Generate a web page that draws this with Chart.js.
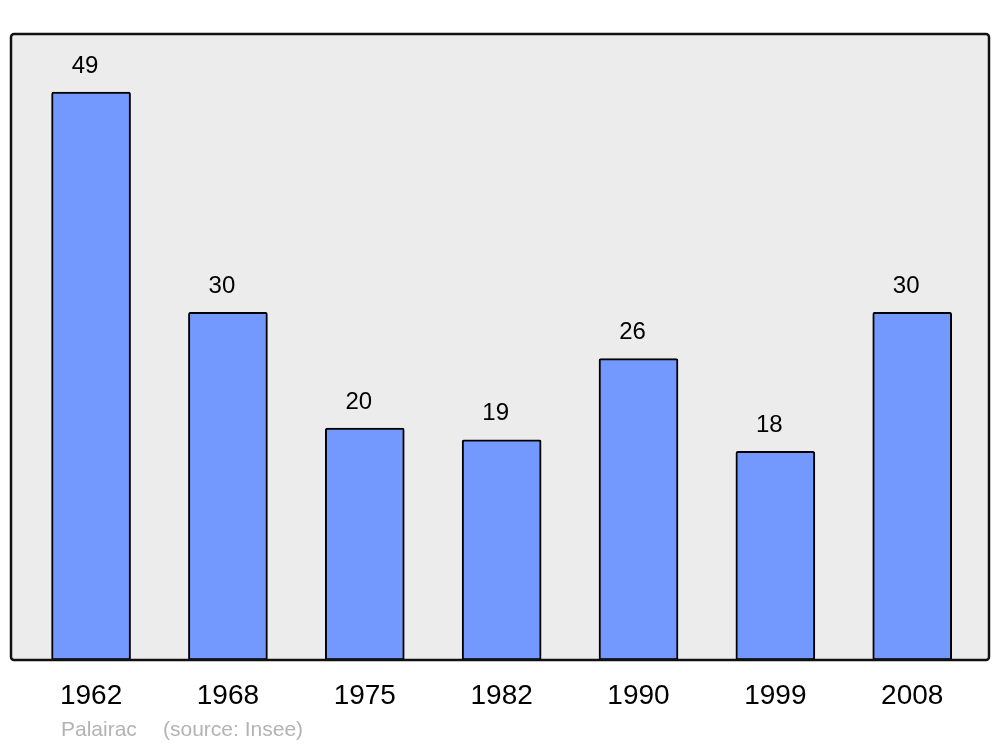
<!DOCTYPE html>
<html>
<head>
<meta charset="utf-8">
<script src="https://cdn.jsdelivr.net/npm/chart.js@4"></script>
<style>
  html, body { margin: 0; padding: 0; background: #fff; }
  #wrap { width: 1000px; height: 747px; }
</style>
</head>
<body>
<div id="wrap"><canvas id="popChart"></canvas></div>
<script>
// data
const years = ['1962', '1968', '1975', '1982', '1990', '1999', '2008'];
const population = [49, 30, 20, 19, 26, 18, 30];
const yMax = 54;

const FONT = '"Liberation Sans", Arial, sans-serif';

// grey panel behind the bars, border drawn after the bars
const panelPlugin = {
    id: 'panel',
    beforeDatasetsDraw(chart) {
        const a = chart.chartArea;
        const ctx = chart.ctx;
        ctx.save();
        ctx.fillStyle = '#ececec';
        ctx.beginPath();
        ctx.roundRect(a.left, a.top, a.right - a.left, a.bottom - a.top, 3);
        ctx.fill();
        ctx.restore();
    },
    afterDatasetsDraw(chart) {
        const a = chart.chartArea;
        const ctx = chart.ctx;
        ctx.save();
        ctx.strokeStyle = '#111';
        ctx.lineWidth = 2.5;
        ctx.beginPath();
        ctx.roundRect(a.left, a.top, a.right - a.left, a.bottom - a.top, 3);
        ctx.stroke();

        // values above the bars
        const meta = chart.getDatasetMeta(0);
        ctx.fillStyle = '#000';
        ctx.font = '24px ' + FONT;
        ctx.textAlign = 'center';
        ctx.textBaseline = 'middle';
        meta.data.forEach((bar, i) => {
            ctx.fillText(String(population[i]), bar.x - 6, bar.y - 26);
        });

        // footer
        ctx.fillStyle = '#b3b3b3';
        ctx.font = '21px ' + FONT;
        ctx.textAlign = 'left';
        ctx.fillText('Palairac', 61, 730);
        ctx.fillText('(source: Insee)', 163, 730);
        ctx.restore();
    }
};

const ctx = document.getElementById('popChart').getContext('2d');

new Chart(ctx, {
    type: 'bar',
    data: {
        datasets: [{
            data: population.map((v, i) => ({ x: i, y: v })),
            backgroundColor: '#7399ff',
            borderColor: '#000',
            borderWidth: 2,
            borderRadius: 2,
            borderSkipped: false,
            barThickness: 79,
        }],
    },
    options: {
        responsive: true,
        maintainAspectRatio: false,
        animation: false,
        layout: { padding: { left: 11, right: 11, top: 34, bottom: 0 } },
        plugins: {
            legend: { display: false },
            tooltip: { enabled: false },
        },
        scales: {
            x: {
                type: 'linear',
                offset: false,
                min: -0.585,
                max: 6.561,
                grid: { display: false },
                border: { display: false },
                afterBuildTicks: (scale) => {
                    scale.ticks = years.map((_, i) => ({ value: i }));
                },
                afterFit: (scale) => { scale.height = 87; },
                ticks: {
                    autoSkip: false,
                    maxRotation: 0,
                    padding: 11,
                    color: '#000',
                    font: { size: 28, family: FONT },
                    callback: (v) => years[v],
                },
            },
            y: {
                display: false,
                min: 0,
                max: yMax,
            },
        },
    },
    plugins: [panelPlugin],
});
</script>
</body>
</html>
